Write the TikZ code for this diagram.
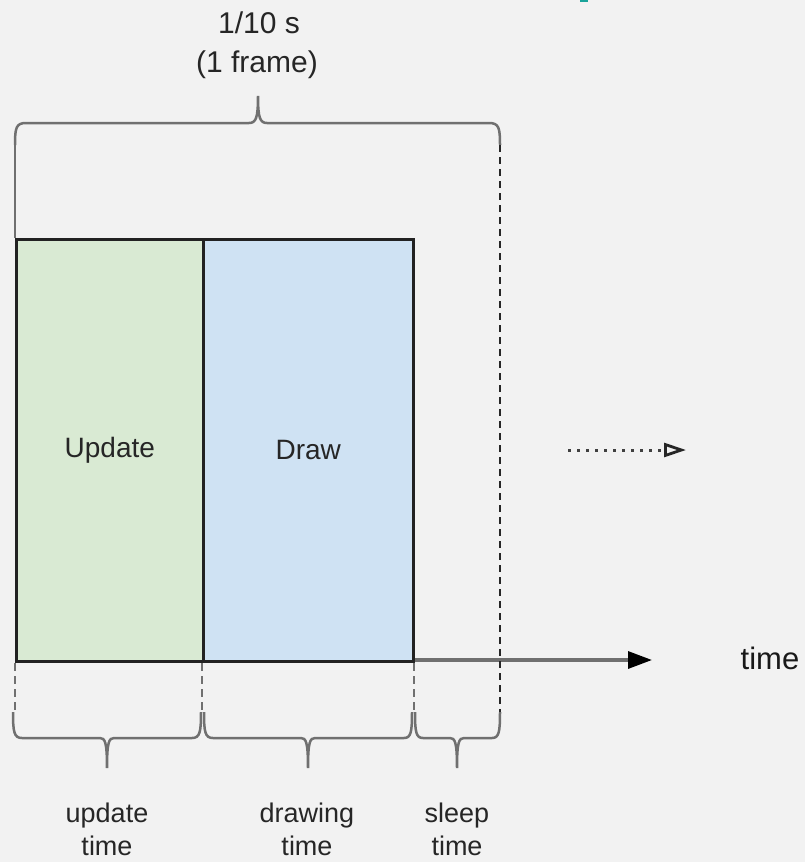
\documentclass[tikz,border=0pt]{standalone}
\usepackage{fontspec}
\setmainfont{Liberation Sans}
\usetikzlibrary{arrows.meta}
\definecolor{bgc}{HTML}{F2F2F2}
\definecolor{updc}{HTML}{D9EAD3}
\definecolor{drwc}{HTML}{CFE2F3}
\definecolor{bracec}{HTML}{707070}
\definecolor{edgec}{HTML}{222222}
\definecolor{tealc}{HTML}{1AA39A}
\tikzset{
  phase/.style={draw=edgec, line width=2.6pt, inner sep=0pt, anchor=north west,
    font=\fontsize{28pt}{34pt}\selectfont, text=black!85},
  brace/.style={draw=bracec, line width=2.5pt},
  guide/.style={draw=bracec, line width=2.8pt, dash pattern=on 8pt off 5pt},
  rguide/.style={draw=black!85, line width=2.4pt, dash pattern=on 7pt off 5pt},
  toplbl/.style={anchor=base, font=\fontsize{30pt}{36pt}\selectfont, text=black!85, inner sep=0pt},
  botlbl/.style={anchor=base, font=\fontsize{27pt}{33pt}\selectfont, text=black!85, inner sep=0pt},
}
\begin{document}
\begin{tikzpicture}[x=1pt,y=-1pt]
\fill[bgc] (0,0) rectangle (805,862);
\useasboundingbox (0,0) rectangle (805,862);
\fill[tealc] (580,0) rectangle (588,2);

% labels on top
\node[toplbl] (t1) at (259,33) {1/10 s};
\node[toplbl] (t2) at (257,72) {(1 frame)};

% top brace
\coordinate (tbl) at (15,145);
\coordinate (tbr) at (500,145);
\draw[brace] (tbl) .. controls (15,128) and (16,123) .. (26,123) -- (249,123)
  .. controls (256,123) and (258,118) .. (258,96)
  .. controls (258,118) and (260,123) .. (267,123) -- (489,123)
  .. controls (499,123) and (500,128) .. (tbr);

% axis
\coordinate (axs) at (15,660);
\coordinate (axe) at (652,660);
\draw[draw=bracec, line width=3.2pt, -{Triangle[length=24pt,width=17pt,color=black]}] (axs) -- (axe);

% phases
\node[phase, fill=updc, minimum width=187pt, minimum height=422pt] (upd) at (15,238) {Update};
\node[phase, fill=drwc, minimum width=210pt, minimum height=422pt] (drw) at (202,238) {Draw};

% guides
\draw[brace] (tbl) -- (upd.north west);
\coordinate (g1a) at (15,663);   \coordinate (g1b) at (15,712);
\coordinate (g2a) at (202,663);  \coordinate (g2b) at (202,712);
\coordinate (g3a) at (414,663);  \coordinate (g3b) at (414,712);
\coordinate (g4b) at (500,712);
\draw[guide] (g1a) -- (g1b);
\draw[guide] (g2a) -- (g2b);
\draw[guide] (g3a) -- (g3b);
\draw[rguide] (tbr) -- (g4b);

% bottom braces
\draw[brace] (13,712) .. controls (13,732) and (14,738) .. (22,738) -- (100,738)
  .. controls (105,738) and (107,742) .. (107,768)
  .. controls (107,742) and (109,738) .. (114,738) -- (192,738)
  .. controls (200,738) and (201,732) .. (201,712);
\draw[brace] (204,712) .. controls (204,732) and (205,738) .. (213,738) -- (301,738)
  .. controls (306,738) and (308,742) .. (308,768)
  .. controls (308,742) and (310,738) .. (315,738) -- (404,738)
  .. controls (411,738) and (412,732) .. (412,712);
\draw[brace] (415,712) .. controls (415,732) and (416,738) .. (423,738) -- (450,738)
  .. controls (455,738) and (457,742) .. (457,768)
  .. controls (457,742) and (459,738) .. (464,738) -- (492,738)
  .. controls (499,738) and (500,732) .. (500,712);

% bottom labels
\node[botlbl] (b1a) at (107,822) {update};
\node[botlbl] (b1b) at (107,855) {time};
\node[botlbl] (b2a) at (307,822) {drawing};
\node[botlbl] (b2b) at (307,855) {time};
\node[botlbl] (b3a) at (457,822) {sleep};
\node[botlbl] (b3b) at (457,855) {time};

% time label
\node[font=\fontsize{31pt}{36pt}\selectfont, text=black!90, inner sep=0pt] (tm) at (770,658) {time};

% continuation arrow
\coordinate (ca) at (568,450);
\coordinate (cb) at (686,450);
\draw[draw=black!75, line width=3pt, dash pattern=on 2.5pt off 6.5pt,
  -{Triangle[open,length=22pt,width=14pt,line width=2.8pt,color=black!85]}] (ca) -- (cb);
\end{tikzpicture}
\end{document}
